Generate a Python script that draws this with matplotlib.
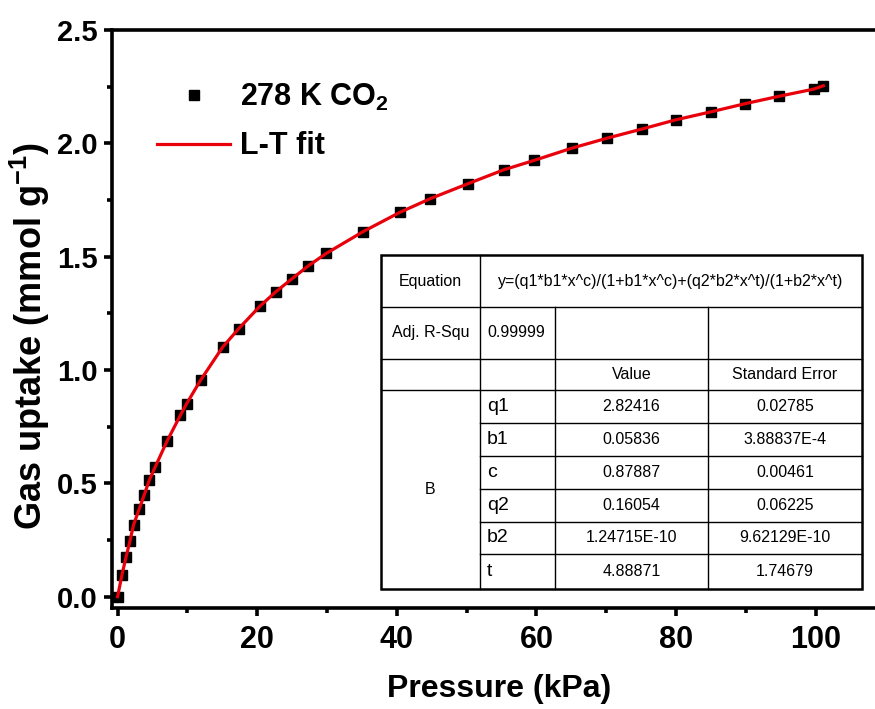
import matplotlib
matplotlib.use("Agg")
import matplotlib.pyplot as plt
from matplotlib.lines import Line2D
from matplotlib.ticker import MultipleLocator

plt.rcParams['font.family'] = ['Liberation Sans', 'DejaVu Sans']
plt.rcParams['mathtext.fontset'] = 'custom'
plt.rcParams['mathtext.rm'] = 'Liberation Sans'
plt.rcParams['mathtext.bf'] = 'Liberation Sans:bold'
plt.rcParams['mathtext.default'] = 'bf'

pressure = [0, 0.63, 1.2, 1.78, 2.3, 3.1, 3.83, 4.54, 5.4, 7.08, 8.99, 9.9,
            11.95, 15.05, 17.34, 20.4, 22.7, 25.0, 27.3, 29.87, 35.2, 40.4,
            44.8, 50.2, 55.3, 59.7, 65.1, 70.15, 75.1, 80.0, 85.0, 89.9,
            94.8, 99.7, 101.1]
uptake = [0, 0.097, 0.173, 0.247, 0.318, 0.387, 0.45, 0.514, 0.573, 0.686,
          0.80, 0.852, 0.958, 1.101, 1.182, 1.282, 1.346, 1.403, 1.459,
          1.514, 1.611, 1.695, 1.756, 1.822, 1.883, 1.925, 1.979, 2.023,
          2.063, 2.104, 2.139, 2.175, 2.208, 2.239, 2.254]

# fit report table
equation = "y=(q1*b1*x^c)/(1+b1*x^c)+(q2*b2*x^t)/(1+b2*x^t)"
adj_r2 = "0.99999"
params = ["q1", "b1", "c", "q2", "b2", "t"]
values = ["2.82416", "0.05836", "0.87887", "0.16054", "1.24715E-10", "4.88871"]
errors = ["0.02785", "3.88837E-4", "0.00461", "0.06225", "9.62129E-10", "1.74679"]

W, H = 875, 709
fig = plt.figure(figsize=(W / 100, H / 100), dpi=100)
ax = fig.add_axes([112 / W, 1 - 608 / H, 1 - 112 / W, (608 - 30) / H])

ax.plot(pressure, uptake, 's', color='black', markersize=6.5, label='278 K CO$_2$', zorder=2)
ax.plot(pressure, uptake, '-', color='#e8000b', linewidth=2.3, label='L-T fit', zorder=3)

ax.set_xlim(-0.8, 108.5)
ax.set_ylim(-0.05, 2.5)
ax.xaxis.set_major_locator(MultipleLocator(20))
ax.xaxis.set_minor_locator(MultipleLocator(10))
ax.yaxis.set_minor_locator(MultipleLocator(0.25))
ax.set_yticks([0, 0.5, 1.0, 1.5, 2.0, 2.5])
ax.set_yticklabels(['0.0', '0.5', '1.0', '1.5', '2.0', '2.5'])

for s in ['left', 'bottom', 'top']:
    ax.spines[s].set_linewidth(2.6)
ax.spines['right'].set_visible(False)
ax.tick_params(which='both', direction='out', width=2.6, top=False, right=False)
ax.tick_params(which='major', length=6)
ax.tick_params(which='minor', length=3.5)
ax.tick_params(axis='y', labelsize=21, pad=4)
ax.tick_params(axis='x', labelsize=22, pad=6)
for t in ax.get_yticklabels() + ax.get_xticklabels():
    t.set_fontweight('bold')

ax.set_xlabel('Pressure (kPa)', fontsize=23, fontweight='bold')
ax.xaxis.set_label_coords(0.508, -0.115)
ax.set_ylabel('Gas uptake (mmol g$^{-1}$)', fontsize=26, fontweight='bold')
ax.yaxis.set_label_coords(-0.079, 0.47)

leg = ax.legend(loc='upper left', bbox_to_anchor=(157 / W, 1 - 82 / H),
                bbox_transform=fig.transFigure, frameon=False,
                prop={'weight': 'bold', 'size': 22}, handlelength=2.4,
                handletextpad=0.3, labelspacing=0.6, borderpad=0, borderaxespad=0)


# ---- fit table, drawn in pixel positions ----
def fx(px):
    return px / W


def fy(py):
    return 1 - py / H


def hline(x0, x1, y, lw=1.0):
    fig.add_artist(Line2D([fx(x0), fx(x1)], [fy(y), fy(y)], color='black', lw=lw, zorder=6))


def vline(x, y0, y1, lw=1.0):
    fig.add_artist(Line2D([fx(x), fx(x)], [fy(y0), fy(y1)], color='black', lw=lw, zorder=6))


def cell(x, y, s, ha='center', size=11.5):
    fig.text(fx(x), fy(y), s, ha=ha, va='center', fontsize=size, zorder=7)


L, R, T, B = 381, 862, 255, 589
c1, c2, c3 = 480, 555, 708
rows = [307, 359, 390, 422.7, 455.7, 488.7, 521.7, 554.3]

fig.add_artist(plt.Rectangle((fx(L), fy(B)), fx(R) - fx(L), fy(T) - fy(B),
                             facecolor='white', edgecolor='black', lw=1.8, zorder=5))
hline(L, R, rows[0])
hline(L, R, rows[1])
hline(L, R, rows[2])
for r in rows[3:]:
    hline(c1, R, r)
vline(c1, T, B)
vline(c2, rows[0], B)
vline(c3, rows[0], B)

cell((L + c1) / 2, (T + rows[0]) / 2, 'Equation')
cell((c1 + R) / 2, (T + rows[0]) / 2, equation)
cell((L + c1) / 2, (rows[0] + rows[1]) / 2, 'Adj. R-Squ')
cell(c1 + 7, (rows[0] + rows[1]) / 2, adj_r2, ha='left')
cell((c2 + c3) / 2, (rows[1] + rows[2]) / 2, 'Value')
cell((c3 + R) / 2, (rows[1] + rows[2]) / 2, 'Standard Error')
cell((L + c1) / 2, (rows[2] + B) / 2, 'B')

edges = rows[2:] + [B]
for i in range(len(params)):
    yc = (edges[i] + edges[i + 1]) / 2
    cell(c1 + 7, yc, params[i], ha='left', size=14)
    cell((c2 + c3) / 2, yc, values[i])
    cell((c3 + R) / 2, yc, errors[i])

fig.savefig('out.png', dpi=100)
